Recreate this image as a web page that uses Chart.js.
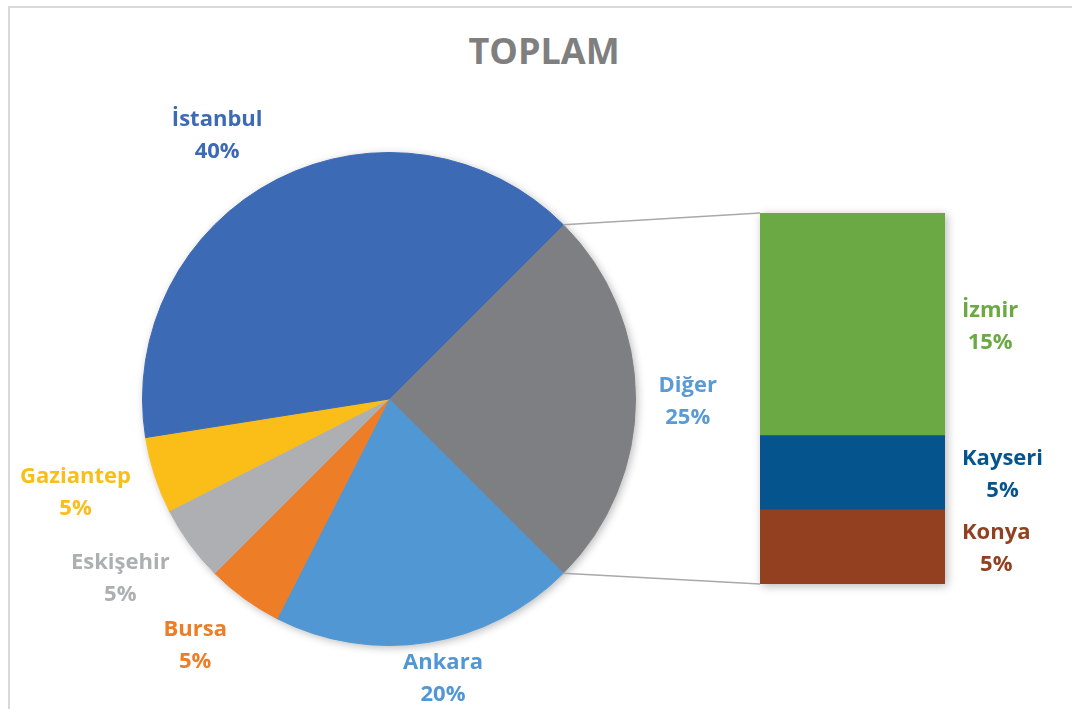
<!DOCTYPE html>
<html>
<head>
<meta charset="utf-8">
<script src="https://cdn.jsdelivr.net/npm/chart.js@4.4.1/dist/chart.umd.min.js"></script>
<style>
  html, body { margin: 0; padding: 0; background: #fff; }
  #wrap { position: relative; width: 1072px; height: 709px; overflow: hidden; }
  #frame { position: absolute; left: 8px; top: 6px; width: 1200px; height: 800px;
           border-left: 2px solid #d9d9d9; border-top: 2px solid #d9d9d9; }
  #title { position: absolute; left: 0; width: 1088px; top: 26px; text-align: center;
           font: bold 36px "Open Sans", sans-serif; color: #7f7f7f; }
  canvas { position: absolute; left: 0; top: 0; }
</style>
</head>
<body>
<div id="wrap">
  <div id="frame"></div>
  <div id="title">TOPLAM</div>
  <canvas id="pie" width="1072" height="709"></canvas>
  <canvas id="bar" width="1072" height="709"></canvas>
</div>
<script>
// pie, clockwise from the "Diğer" slice
const pieLabels = ['Diğer', 'Ankara', 'Bursa', 'Eskişehir', 'Gaziantep', 'İstanbul'];
const pieValues = [25, 20, 5, 5, 5, 40];
const pieColors = ['#7e7f83', '#5097d3', '#ed7d27', '#aeafb2', '#fbbd18', '#3c6ab4'];
const pieLabelColors = ['#5a9bd5', '#5097d3', '#ed7d27', '#aeafb2', '#fbbd18', '#3c6ab4'];

// bar that breaks down "Diğer", bottom to top
const barLabels = ['Konya', 'Kayseri', 'İzmir'];
const barValues = [5, 5, 15];
const barColors = ['#934021', '#06548d', '#6aa944'];

const total = pieValues.reduce((a, b) => a + b, 0);
const pct = v => Math.round(v / total * 100) + '%';
const FONT = 'bold 22px "Open Sans", sans-serif';

// small hand nudges so the labels sit where Excel put them
const labelNudge = {
  'Diğer': [9, 3], 'Ankara': [7, -5], 'Bursa': [-22, 13],
  'Eskişehir': [-18, 10], 'Gaziantep': [-13, 5], 'İstanbul': [-33, -6]
};

const shadowPie = {
  id: 'shadowPie',
  beforeDatasetsDraw(chart) {
    const a = chart.getDatasetMeta(0).data[0];
    const ctx = chart.ctx;
    ctx.save();
    ctx.shadowColor = 'rgba(0,0,0,0.28)';
    ctx.shadowBlur = 9;
    ctx.shadowOffsetX = 2;
    ctx.shadowOffsetY = 2;
    ctx.fillStyle = '#fff';
    ctx.beginPath();
    ctx.arc(a.x, a.y, a.outerRadius, 0, Math.PI * 2);
    ctx.fill();
    ctx.restore();
  }
};

const pieText = {
  id: 'pieText',
  afterDatasetsDraw(chart) {
    const ctx = chart.ctx;
    ctx.save();
    ctx.font = FONT;
    ctx.textAlign = 'center';
    ctx.textBaseline = 'middle';
    chart.getDatasetMeta(0).data.forEach((arc, i) => {
      const name = pieLabels[i];
      const mid = (arc.startAngle + arc.endAngle) / 2;
      const cos = Math.cos(mid), sin = Math.sin(mid);
      const w = Math.max(ctx.measureText(name).width, ctx.measureText(pct(pieValues[i])).width);
      const h = 56;
      const ax = arc.x + (arc.outerRadius + 14) * cos;
      const ay = arc.y + (arc.outerRadius + 14) * sin;
      const n = labelNudge[name] || [0, 0];
      const cx = ax + cos * w / 2 + n[0];
      const cy = ay + sin * h / 2 + n[1];
      ctx.fillStyle = pieLabelColors[i];
      ctx.fillText(name, cx, cy - 16);
      ctx.fillText(pct(pieValues[i]), cx, cy + 16);
    });
    ctx.restore();
  }
};

const pieChart = new Chart(document.getElementById('pie'), {
  type: 'pie',
  data: {
    labels: pieLabels,
    datasets: [{
      data: pieValues,
      backgroundColor: pieColors,
      borderColor: pieColors,
      borderWidth: 1
    }]
  },
  options: {
    responsive: false,
    animation: false,
    rotation: 45,
    layout: { padding: { left: 142, right: 436, top: 152, bottom: 63 } },
    plugins: { legend: { display: false }, tooltip: { enabled: false } }
  },
  plugins: [shadowPie, pieText]
});

const barExtras = {
  id: 'barExtras',
  beforeDatasetsDraw(chart) {
    const ctx = chart.ctx;
    const bar = chart.getDatasetMeta(0).data[0];
    const y = chart.scales.y;
    const left = bar.x - bar.width / 2;
    const top = y.getPixelForValue(barValues.reduce((a, b) => a + b, 0));
    const bottom = y.getPixelForValue(0);
    ctx.save();
    ctx.shadowColor = 'rgba(0,0,0,0.28)';
    ctx.shadowBlur = 9;
    ctx.shadowOffsetX = 2;
    ctx.shadowOffsetY = 2;
    ctx.fillStyle = '#fff';
    ctx.fillRect(left, top, bar.width, bottom - top);
    ctx.restore();

    // connector lines from the "Diğer" slice to the bar
    const arc = pieChart.getDatasetMeta(0).data[0];
    ctx.save();
    ctx.strokeStyle = '#a9a9ac';
    ctx.lineWidth = 1.6;
    ctx.beginPath();
    ctx.moveTo(arc.x + arc.outerRadius * Math.cos(arc.startAngle), arc.y + arc.outerRadius * Math.sin(arc.startAngle));
    ctx.lineTo(left, top);
    ctx.moveTo(arc.x + arc.outerRadius * Math.cos(arc.endAngle), arc.y + arc.outerRadius * Math.sin(arc.endAngle));
    ctx.lineTo(left, bottom);
    ctx.stroke();
    ctx.restore();
  },
  afterDatasetsDraw(chart) {
    const ctx = chart.ctx;
    ctx.save();
    ctx.font = FONT;
    ctx.textAlign = 'center';
    ctx.textBaseline = 'middle';
    barLabels.forEach((name, i) => {
      const el = chart.getDatasetMeta(i).data[0];
      const right = el.x + el.width / 2;
      const cy = (el.y + el.base) / 2 + 2;
      const w = Math.max(ctx.measureText(name).width, ctx.measureText(pct(barValues[i])).width);
      const cx = right + 17 + w / 2;
      ctx.fillStyle = barColors[i];
      ctx.fillText(name, cx, cy - 16);
      ctx.fillText(pct(barValues[i]), cx, cy + 16);
    });
    ctx.restore();
  }
};

new Chart(document.getElementById('bar'), {
  type: 'bar',
  data: {
    labels: ['Diğer'],
    datasets: barLabels.map((name, i) => ({
      label: name,
      data: [barValues[i]],
      backgroundColor: barColors[i],
      barPercentage: 1,
      categoryPercentage: 1
    }))
  },
  options: {
    responsive: false,
    animation: false,
    layout: { padding: { left: 760, right: 127, top: 213, bottom: 125 } },
    scales: {
      x: { stacked: true, display: false },
      y: { stacked: true, display: false, min: 0, max: 25 }
    },
    plugins: { legend: { display: false }, tooltip: { enabled: false } }
  },
  plugins: [barExtras]
});
</script>
</body>
</html>
